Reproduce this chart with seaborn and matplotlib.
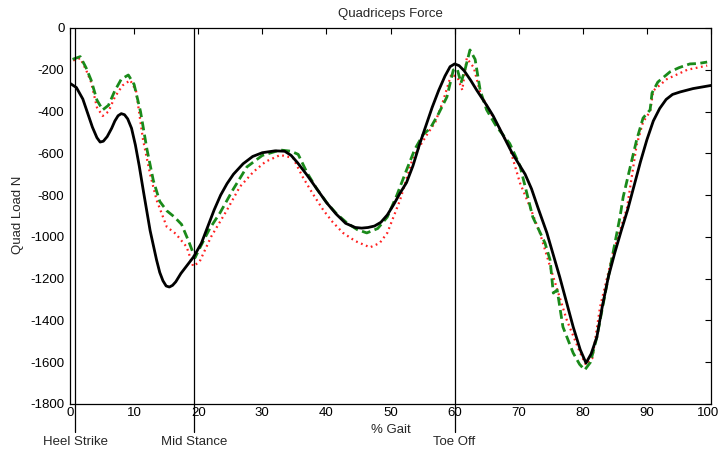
import numpy as np
import pandas as pd
import matplotlib
matplotlib.use("Agg")
import matplotlib.pyplot as plt
import matplotlib.transforms as mtransforms
import seaborn as sns

# % gait / quad load (N)
black_x = [0, 1, 2, 3, 3.5, 4.2, 4.7, 5.2, 5.8, 6.5, 7, 7.5, 8, 8.5, 9, 9.6, 10.2, 10.8, 11.5,
           12.5, 13.5, 14, 14.5, 15, 15.5, 16, 16.5, 17.3, 18.3, 19.3, 20.5, 21.5, 22.5, 23.5,
           24.5, 25.5, 27, 28.5, 30, 32, 33.5, 34.5, 35.5, 37, 38.5, 40, 41.5, 43, 44.5, 45.5,
           46.5, 47.5, 48.5, 49.5, 50.5, 51.5, 52.5, 53.5, 54.5, 55.5, 56.5, 57.5, 58.5, 59.3,
           60, 60.7, 61.5, 62.5, 63.5, 65, 66, 67, 68, 69, 70, 71, 72, 73, 74.4, 76.4, 78.5,
           79.6, 80.5, 81.3, 82.2, 83, 84, 85, 86, 87, 88, 89, 90, 91, 92, 93, 94, 95.2, 97.2,
           100]
black_y = [-265, -285, -340, -430, -475, -525, -546, -542, -520, -480, -445, -420, -410, -415,
           -435, -480, -560, -660, -790, -970, -1110, -1170, -1210, -1235, -1240, -1232, -1215,
           -1175, -1135, -1095, -1030, -950, -870, -800, -745, -700, -650, -615, -597, -588,
           -590, -610, -645, -705, -770, -835, -890, -935, -955, -958, -955, -948, -930, -895,
           -845, -790, -740, -660, -560, -470, -380, -300, -230, -185, -172, -180, -205, -250,
           -300, -370, -420, -480, -540, -600, -650, -700, -770, -860, -981, -1192, -1431, -1540,
           -1604, -1560, -1479, -1340, -1190, -1075, -970, -870, -755, -640, -535, -445, -385,
           -342, -318, -306, -290, -275]

red_x = [0.5, 1.6, 2.5, 3.3, 4.2, 5.1, 6, 7, 8.2, 9.4, 10.3, 11.4, 12.5, 13.5, 15.1, 16.5, 18.2,
         19.2, 20.2, 22, 24.5, 26.5, 28.6, 30.5, 32.8, 34.8, 36.3, 37.8, 39.5, 41, 42.6, 44.5,
         46.8, 48.3, 49.5, 51.5, 53.5, 55.7, 57, 58.2, 59.5, 60.5, 61.2, 61.9, 63, 64, 65.5, 67,
         68.6, 70.2, 71.8, 73.3, 75.4, 77.5, 79.6, 80.5, 81.5, 82.7, 84.7, 86.9, 87.4, 88.4,
         89.4, 90.5, 91, 93.1, 96.3, 99.4]
red_y = [-155, -145, -200, -260, -380, -421, -400, -330, -275, -250, -300, -536, -700, -823,
         -952, -985, -1048, -1140, -1120, -1000, -871, -760, -689, -640, -608, -622, -713, -790,
         -871, -930, -981, -1020, -1050, -1030, -981, -823, -620, -510, -450, -350, -220, -240,
         -297, -144, -190, -310, -400, -480, -575, -742, -860, -981, -1192, -1398, -1556, -1613,
         -1580, -1335, -1079, -861, -760, -560, -450, -400, -300, -245, -200, -180]

green_x = [0.4, 1.6, 2.5, 3.3, 4.2, 5.1, 6, 7, 8, 9.1, 10, 11, 12, 13, 14, 15.1, 16.3, 17.4,
           18.5, 19.5, 20.3, 21.8, 23.4, 25.5, 27.6, 30, 32.8, 34.5, 35.6, 37, 38.5, 40.1, 41.6,
           43.2, 44.8, 46.3, 48, 49.5, 51, 52.5, 53.8, 55.1, 56.2, 57.5, 58.8, 59.8, 60.4, 61,
           61.7, 62.4, 63.2, 64, 65, 66.5, 68.6, 70.2, 72.2, 74.1, 74.9, 75.4, 76, 76.9, 78.5,
           79.5, 80.3, 81.2, 82.2, 83.8, 85.8, 86.3, 87.4, 88.4, 89.4, 90.5, 90.8, 91.7, 93.6,
           95, 96.7, 98, 99.4]
green_y = [-150, -137, -190, -250, -345, -392, -370, -300, -245, -225, -270, -400, -580, -730,
           -830, -875, -905, -940, -1020, -1100, -1050, -960, -885, -770, -665, -610, -584, -590,
           -605, -694, -770, -838, -890, -933, -965, -981, -960, -905, -800, -680, -580, -510,
           -480, -410, -330, -201, -195, -263, -190, -105, -150, -300, -392, -470, -553, -660,
           -905, -1029, -1111, -1269, -1254, -1431, -1556, -1610, -1637, -1600, -1479, -1221,
           -905, -809, -665, -536, -431, -392, -311, -259, -210, -190, -172, -170, -163]

events_x = [0.8, 19.3, 60]
events = ["Heel Strike", "Mid Stance", "Toe Off"]

sns.set_style("white")
plt.rcParams['font.family'] = ['Liberation Sans', 'DejaVu Sans']
plt.rcParams['axes.unicode_minus'] = False
plt.rcParams['font.size'] = 9.5

fig = plt.figure(figsize=(7.21, 4.53), dpi=100)
ax = fig.add_axes([70 / 721, 49 / 453, 641 / 721, 376 / 453])

sns.lineplot(x=red_x, y=red_y, ax=ax, color="#ff2020", lw=1.6, linestyle=(0, (0.8, 1.6)), sort=False)
sns.lineplot(x=green_x, y=green_y, ax=ax, color="#1a8a1a", lw=2, linestyle=(0, (3.2, 1.6)), sort=False)
sns.lineplot(x=black_x, y=black_y, ax=ax, color="black", lw=2, sort=False)

for xv, name in zip(events_x, events):
    ax.axvline(xv, ymin=-0.075, ymax=1, color="black", lw=0.9, clip_on=False)
    ax.text(xv, -0.101, name, transform=ax.get_xaxis_transform(), ha="center", va="center",
            fontsize=9.5)

ax.set_xlim(0, 100)
ax.set_ylim(-1800, 0)
ax.set_xticks(range(0, 101, 10))
ax.set_yticks(range(-1800, 1, 200))
ax.tick_params(direction="in", length=4, width=0.8, top=True, right=True,
               labeltop=False, labelright=False, colors="black", labelsize=9.5)
ax.tick_params(axis="x", pad=2)
ax.tick_params(axis="y", pad=4)
for s in ax.spines.values():
    s.set_color("black")
    s.set_linewidth(0.9)

# nudge the "100" label so it stays inside the picture
last = ax.get_xticklabels()[-1]
last.set_transform(last.get_transform() + mtransforms.ScaledTranslation(-2 / 72, 0, fig.dpi_scale_trans))

ax.set_title("Quadriceps Force", fontsize=9.5, pad=8)
ax.set_xlabel("% Gait", fontsize=9.5)
ax.xaxis.set_label_coords(0.5, -0.052)
ax.set_ylabel("Quad Load N", fontsize=9.5)
ax.yaxis.set_label_coords(-0.072, 0.503)

fig.savefig("out.png", dpi=100)
